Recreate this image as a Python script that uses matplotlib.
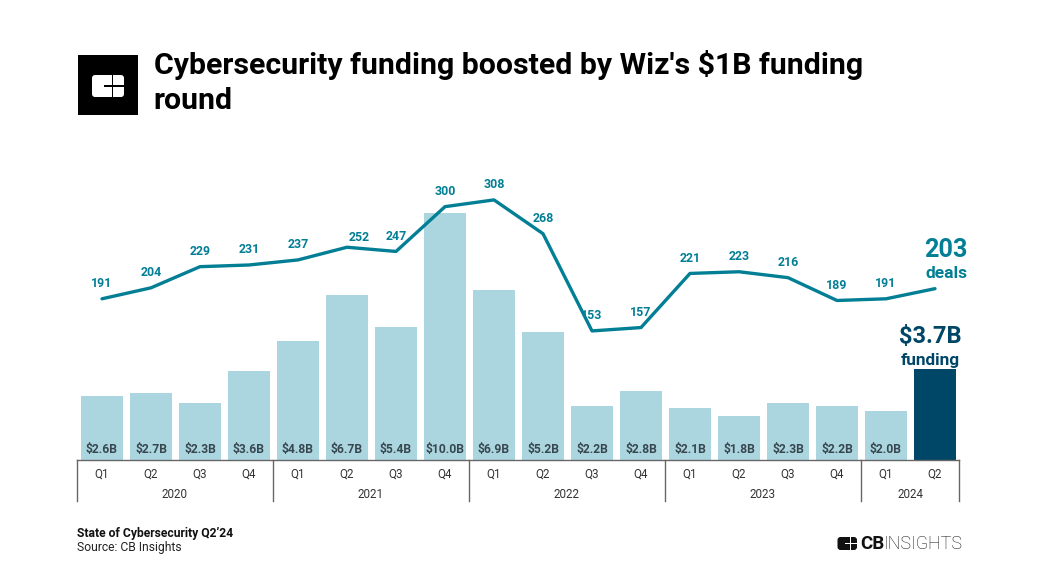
#!/usr/bin/env python

import matplotlib
matplotlib.use('Agg')

import matplotlib.pyplot as plt
from matplotlib.patches import Rectangle, FancyBboxPatch

plt.rcParams['font.family'] = ['Roboto', 'DejaVu Sans']

W, H = 1040, 585

quarters = ['Q1', 'Q2', 'Q3', 'Q4'] * 4 + ['Q1', 'Q2']
years = ['2020', '2021', '2022', '2023', '2024']
year_counts = [4, 4, 4, 4, 2]
funding = [2.6, 2.7, 2.3, 3.6, 4.8, 6.7, 5.4, 10.0, 6.9, 5.2, 2.2, 2.8, 2.1, 1.8, 2.3, 2.2, 2.0, 3.7]
funding_labels = ['$2.6B', '$2.7B', '$2.3B', '$3.6B', '$4.8B', '$6.7B', '$5.4B', '$10.0B', '$6.9B',
                  '$5.2B', '$2.2B', '$2.8B', '$2.1B', '$1.8B', '$2.3B', '$2.2B', '$2.0B']
deals = [191, 204, 229, 231, 237, 252, 247, 300, 308, 268, 153, 157, 221, 223, 216, 189, 191, 203]

LIGHT = '#acd6df'
DARK = '#004667'
TEAL = '#027f95'
GREY = '#37474f'
RULE = '#666666'


def px(x, y, w=0, h=0):
  # pixel box, y measured from the top of the image
  return [x / W, 1 - (y + h) / H, w / W, h / H]


fig = plt.figure(figsize=(W / 100, H / 100), dpi=100, facecolor='white')

# bars: baseline at y=460, about 24.7 px per $1B
ax = fig.add_axes(px(77.5, 160, 882, 300))
ax.set_xlim(-0.5, 17.5)
ax.set_ylim(0, 300 / 24.7)
colors = [LIGHT] * 17 + [DARK]
ax.bar(range(18), funding, width=0.875, color=colors, linewidth=0)
for i, lab in enumerate(funding_labels):
  ax.annotate(lab, (i, 0), xytext=(0, 11), textcoords='offset pixels', ha='center', va='center',
              fontsize=8.7, fontweight='bold', color=GREY)
ax.axis('off')

# deals line on its own scale
ax2 = ax.twinx()
ax2.set_ylim(0.3, 355.2)
ax2.plot(range(18), deals, color=TEAL, linewidth=2.4, solid_joinstyle='round', solid_capstyle='round')
label_dx = {5: 12}
label_dy = {5: 10}
for i, d in enumerate(deals[:-1]):
  ax2.annotate(str(d), (i, d), xytext=(label_dx.get(i, 0), label_dy.get(i, 15)), textcoords='offset pixels',
               ha='center', va='center', fontsize=8.9, fontweight='bold', color=TEAL)
ax2.axis('off')

# quarter / year axis below the bars
fig.add_artist(plt.Line2D([77 / W, 959 / W], [1 - 460 / H] * 2, color=RULE, lw=1))
pos = 0
fig.add_artist(plt.Line2D([77 / W] * 2, [1 - 460 / H, 1 - 501 / H], color=RULE, lw=1))
for year, n in zip(years, year_counts):
  x0 = 77 + 49 * pos
  x1 = x0 + 49 * n
  fig.add_artist(plt.Line2D([x1 / W] * 2, [1 - 460 / H, 1 - 501 / H], color=RULE, lw=1))
  fig.text((x0 + x1) / 2 / W, 1 - 494 / H, year, ha='center', va='center', fontsize=8.4, color='#333333')
  pos += n
for i, q in enumerate(quarters):
  fig.text((102 + 49 * i) / W, 1 - 474 / H, q, ha='center', va='center', fontsize=8.4, color='#333333')

# end callouts
fig.text(946 / W, 1 - 250 / H, '203', ha='center', va='center', fontsize=18.2, fontweight='bold', color=TEAL)
fig.text(946 / W, 1 - 273 / H, 'deals', ha='center', va='center', fontsize=12.5, fontweight='bold', color=TEAL)
fig.text(930 / W, 1 - 336 / H, '$3.7B', ha='center', va='center', fontsize=17, fontweight='bold', color=DARK)
fig.text(930 / W, 1 - 360 / H, 'funding', ha='center', va='center', fontsize=12.4, fontweight='bold', color=DARK)

# title
fig.text(153.5 / W, 1 - 65 / H, "Cybersecurity funding boosted by Wiz's $1B funding", ha='left', va='center',
         fontsize=21.8, fontweight='bold', color='black')
fig.text(153.5 / W, 1 - 101 / H, 'round', ha='left', va='center', fontsize=21.8, fontweight='bold', color='black')

# logo block
logo = fig.add_axes([0, 0, 1, 1], zorder=5)
logo.set_xlim(0, W)
logo.set_ylim(H, 0)
logo.axis('off')
logo.patch.set_alpha(0)


def mark(x, y, w, h, fg, bg):
  logo.add_patch(FancyBboxPatch((x + 2, y + 2), w - 4, h - 4, boxstyle='round,pad=2,rounding_size=3', fc=fg, ec='none'))
  logo.add_patch(Rectangle((x + w * 0.38, y + h * 0.45), w * 0.62 + 1, h * 0.09, fc=bg, ec='none'))
  logo.add_patch(Rectangle((x + w * 0.62, y - 1), w * 0.05, h + 2, fc=bg, ec='none'))


logo.add_patch(Rectangle((78, 55), 60, 60, fc='black', ec='none'))
mark(92, 75, 32, 22, 'white', 'black')
mark(837.5, 537, 19.5, 13, '#111111', 'white')

fig.text(860 / W, 1 - 544 / H, 'CB', ha='left', va='center', fontsize=13.5, fontweight='bold', color='#111111')
fig.text(884 / W, 1 - 544 / H, 'INSIGHTS', ha='left', va='center', fontsize=12.9, fontweight='light', color='#111111')

# footer
fig.text(77 / W, 1 - 533 / H, 'State of Cybersecurity Q2\u201924', ha='left', va='center', fontsize=8.7, fontweight='bold', color='#111111')
fig.text(77 / W, 1 - 547 / H, 'Source: CB Insights', ha='left', va='center', fontsize=8.7, color='#222222')

fig.savefig('out.png', dpi=100)
